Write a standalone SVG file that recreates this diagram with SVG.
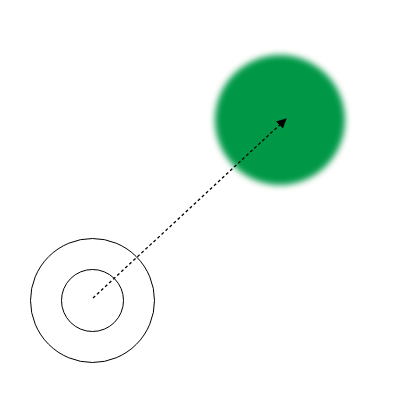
<svg xmlns="http://www.w3.org/2000/svg" width="400" height="400" viewBox="0 0 400 400">
<defs>
<filter id="blur" x="-30%" y="-30%" width="160%" height="160%"><feGaussianBlur stdDeviation="3"/></filter>
<marker id="arrow" viewBox="0 0 10 10" refX="9" refY="5" markerWidth="10" markerHeight="10" markerUnits="userSpaceOnUse" orient="auto"><path d="M0,0 L10,5 L0,10 Z" fill="#000"/></marker>
<style>.ring{fill:none;stroke:#000;stroke-width:1}</style>
</defs>
<rect width="400" height="400" fill="#fff"/>
<g id="target"><circle cx="280" cy="120" r="65" fill="#009846" filter="url(#blur)"/></g>
<g id="source"><circle class="ring" cx="92.5" cy="300.5" r="62"/><circle class="ring" cx="92.5" cy="300.5" r="31"/></g>
<g id="connectors"><line x1="93" y1="298" x2="286" y2="119" stroke="#000" stroke-width="1.3" stroke-dasharray="3,2.5" marker-end="url(#arrow)"/></g>
</svg>
